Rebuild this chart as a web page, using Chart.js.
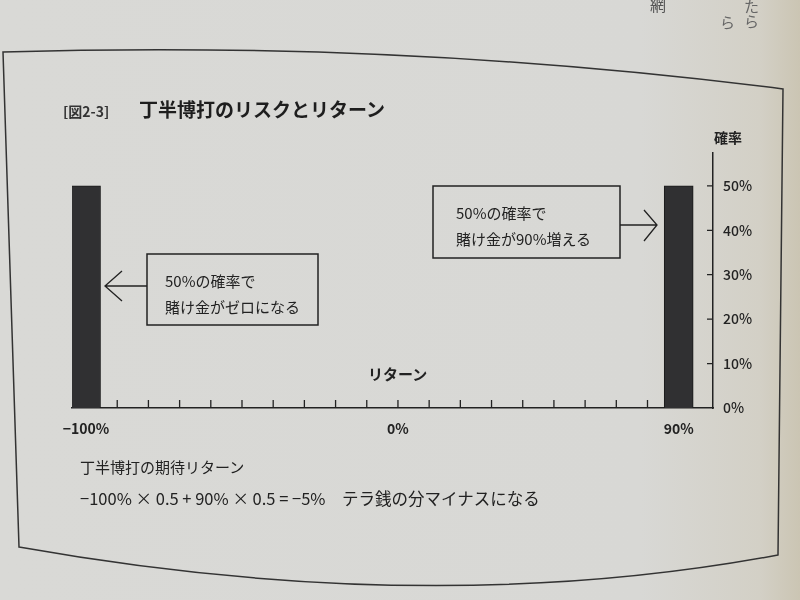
<!DOCTYPE html>
<html>
<head>
<meta charset="utf-8">
<script src="https://cdn.jsdelivr.net/npm/chart.js@4.4.1/dist/chart.umd.min.js"></script>
<style>
  html, body { margin: 0; padding: 0; }
  #page {
    position: relative; width: 800px; height: 600px; overflow: hidden;
    background: linear-gradient(to right, #d9d9d6 0px, #d8d8d5 640px, #d3d0c6 760px, #cbc5b3 800px);
    font-family: "Noto Sans CJK JP", "Noto Sans", sans-serif; color: #222;
  }
  #page canvas, #page svg { position: absolute; left: 0; top: 0; }
  .t { position: absolute; white-space: nowrap; line-height: 1; }
</style>
</head>
<body>
<div id="page">
  <canvas id="riskChart" width="800" height="600"></canvas>
  <svg width="800" height="600">
    <!-- photographed frame, slightly curved -->
    <path d="M3 52 Q 400 40 783 89 L 778 555 Q 430 620 19 547 Z" fill="none" stroke="#333" stroke-width="1.5"/>
    <!-- left note -->
    <rect x="147" y="254" width="171" height="71" fill="none" stroke="#222" stroke-width="1.5"/>
    <path d="M147 286 L105 286 M122 271 L105 286 L122 301" fill="none" stroke="#222" stroke-width="1.3"/>
    <!-- right note -->
    <rect x="433" y="186" width="187" height="72" fill="none" stroke="#222" stroke-width="1.5"/>
    <path d="M620 225 L657 225 M644 210 L657 225 L644 241" fill="none" stroke="#222" stroke-width="1.3"/>
  </svg>

  <div class="t" style="left:650px;top:-4px;font-size:16px;color:#555;">網</div>
  <div class="t" style="left:720px;top:14px;font-size:15px;color:#666;">ら</div>
  <div class="t" style="left:744px;top:-2px;font-size:15px;color:#666;">た<br>ら</div>

  <div class="t" style="left:63px;top:104px;font-size:14px;font-weight:700;color:#333;">[図2-3]</div>
  <div class="t" style="left:139px;top:99px;font-size:19px;font-weight:700;color:#1e1e1e;">丁半博打のリスクとリターン</div>
  <div class="t" style="left:714px;top:130px;font-size:14px;font-weight:700;color:#222;">確率</div>
  <div class="t" style="left:368px;top:366px;font-size:15px;font-weight:700;color:#222;">リターン</div>

  <div class="t" style="left:165px;top:268px;font-size:15px;line-height:26px;">50%の確率で<br>賭け金がゼロになる</div>
  <div class="t" style="left:456px;top:200px;font-size:15px;line-height:26px;">50%の確率で<br>賭け金が90%増える</div>

  <div class="t" style="left:80px;top:459px;font-size:15px;">丁半博打の期待リターン</div>
  <div class="t" style="left:80px;top:490px;font-size:16.5px;">−100% × 0.5 + 90% × 0.5 = −5%　テラ銭の分マイナスになる</div>
</div>

<script>
// outcome of the bet (return, %) and its probability (%)
const returns = [-100, 90];
const probs = [50, 50];

// axis ticks
const xTicks = [-100, -90, -80, -70, -60, -50, -40, -30, -20, -10, 0, 10, 20, 30, 40, 50, 60, 70, 80, 90];
const xLabels = [-100, 0, 90];
const yTicks = [0, 10, 20, 30, 40, 50];

const ink = '#222';
const numFont = { family: '"Noto Sans CJK JP", "Noto Sans", sans-serif', size: 14, weight: '700' };

// small tick marks drawn inward from the axis lines
const innerTicks = {
    id: 'innerTicks',
    beforeDatasetsDraw(chart) {
        const { ctx, scales: { x, y } } = chart;
        ctx.save();
        ctx.strokeStyle = ink;
        ctx.lineWidth = 1.3;
        ctx.beginPath();
        xTicks.forEach(v => {
            const px = x.getPixelForValue(v);
            ctx.moveTo(px, y.bottom);
            ctx.lineTo(px, y.bottom - 8);
        });
        yTicks.forEach(v => {
            if (v === 0) return;
            const py = y.getPixelForValue(v);
            ctx.moveTo(x.right, py);
            ctx.lineTo(x.right - 6, py);
        });
        ctx.stroke();
        ctx.restore();
    }
};

const ctx = document.getElementById('riskChart').getContext('2d');
new Chart(ctx, {
    type: 'bar',
    data: {
        datasets: [{
            data: returns.map((r, i) => ({ x: r, y: probs[i] })),
            backgroundColor: '#303032',
            borderColor: '#1a1a1a',
            borderWidth: 1,
            barThickness: 29
        }]
    },
    options: {
        responsive: false,
        animation: false,
        layout: { padding: { left: 72, right: 37, top: 153, bottom: 152 } },
        plugins: {
            legend: { display: false },
            tooltip: { enabled: false }
        },
        scales: {
            x: {
                type: 'linear',
                offset: false,
                min: -104.5,
                max: 101,
                afterBuildTicks: s => { s.ticks = xTicks.map(v => ({ value: v })); },
                afterFit: s => { s.height = 40; },
                grid: { display: false, drawTicks: false, offset: false },
                border: { display: true, color: ink, width: 1.5 },
                ticks: {
                    autoSkip: false,
                    maxRotation: 0,
                    padding: 12,
                    color: ink,
                    font: numFont,
                    callback: v => xLabels.includes(v) ? (v < 0 ? '−' + Math.abs(v) : v) + '%' : ''
                }
            },
            y: {
                position: 'right',
                min: 0,
                max: 57.4,
                afterBuildTicks: s => { s.ticks = yTicks.map(v => ({ value: v })); },
                afterFit: s => { s.width = 50; },
                grid: { display: false, drawTicks: false },
                border: { display: true, color: ink, width: 1.5 },
                ticks: {
                    padding: 10,
                    color: ink,
                    font: { ...numFont, weight: '500' },
                    callback: v => v + '%'
                }
            }
        }
    },
    plugins: [innerTicks]
});
</script>
</body>
</html>
